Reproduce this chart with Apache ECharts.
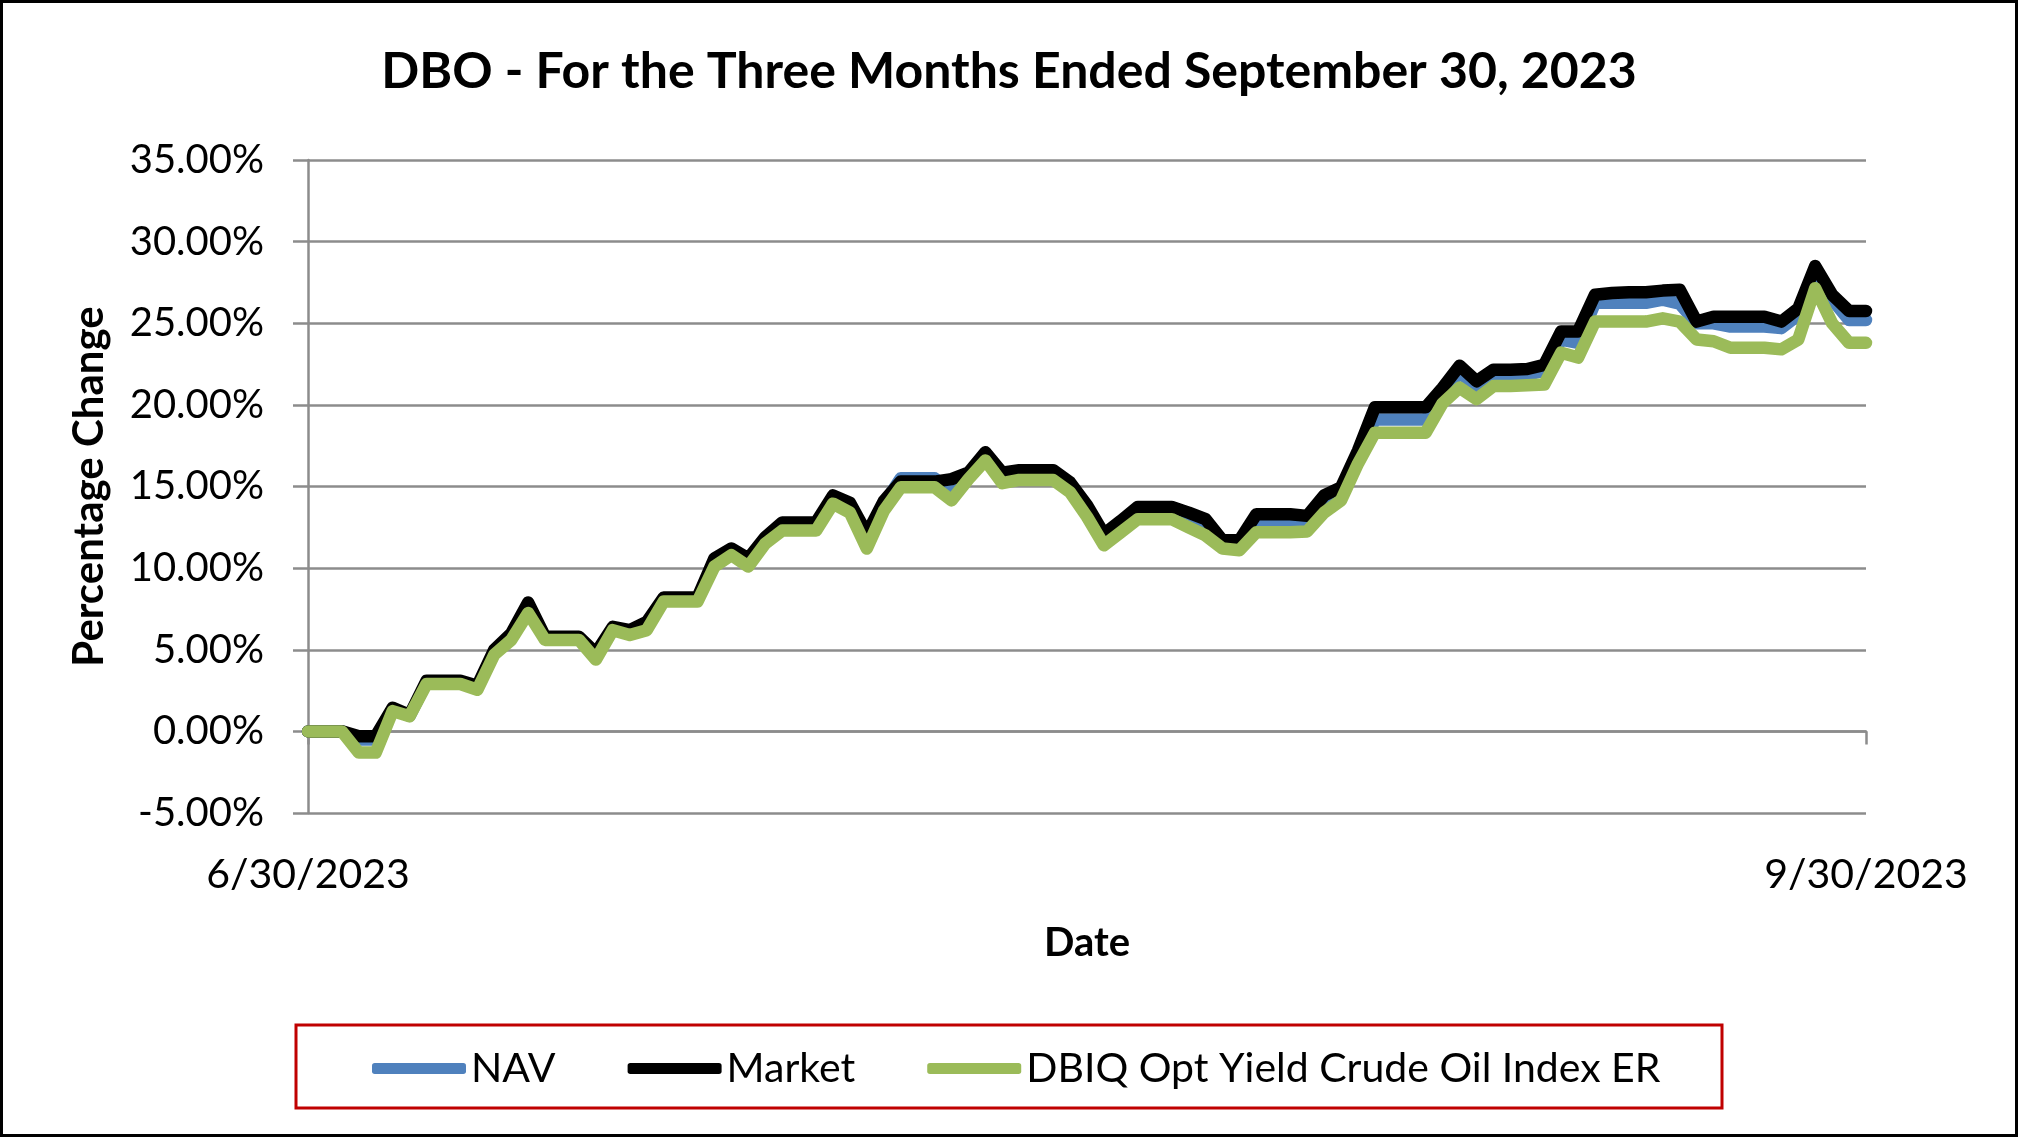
<!DOCTYPE html>
<html><head><meta charset="utf-8">
<script src="https://cdn.jsdelivr.net/npm/echarts/dist/echarts.min.js"></script>
<style>html,body{margin:0;padding:0;background:#fff}#c{width:2018px;height:1137px}</style>
</head><body><div id="c"></div>
<script>
// Categories: daily calendar dates from 6/30/2023 through 9/30/2023
const startDate = [2023, 5, 30]; // year, monthIndex, day
const dayCount = 93;
const xTickLabels = ['6/30/2023', '9/30/2023'];
const yMin = -5, yMax = 35, yInterval = 5;
const seriesNames = ['NAV', 'Market', 'DBIQ Opt Yield Crude Oil Index ER'];

const nav = [
  0, 0, 0, -0.5, -0.5, 1.35, 0.95, 3.0, 3.0, 3.0,
  2.7, 4.85, 5.8, 7.6, 5.7, 5.7, 5.7, 4.6, 6.3, 6.05,
  6.5, 8.1, 8.1, 8.1, 10.4, 11.0, 10.4, 11.7, 12.6, 12.6,
  12.6, 14.2, 13.8, 11.8, 13.9, 15.5, 15.5, 15.5, 14.65, 15.7,
  16.9, 15.6, 15.8, 15.8, 15.8, 15.0, 13.6, 12.0, 12.7, 13.5,
  13.5, 13.5, 13.1, 12.7, 11.5, 11.5, 12.8, 12.8, 12.8, 12.9,
  14.0, 14.7, 16.9, 19.1, 19.1, 19.1, 19.1, 20.6, 22.0, 21.1,
  21.8, 21.8, 21.85, 22.1, 24.0, 23.8, 26.25, 26.25, 26.25, 26.25,
  26.45, 26.2, 25.0, 25.0, 24.8, 24.8, 24.8, 24.7, 25.5, 27.95,
  26.45, 25.2, 25.2
];
const market = [
  0, 0, 0, -0.3, -0.3, 1.45, 1.0, 3.1, 3.1, 3.1,
  2.8, 5.0, 6.0, 7.9, 5.8, 5.8, 5.8, 4.8, 6.4, 6.2,
  6.7, 8.2, 8.2, 8.2, 10.6, 11.2, 10.6, 11.9, 12.8, 12.8,
  12.8, 14.45, 14.0, 12.1, 14.1, 15.3, 15.3, 15.3, 15.45, 15.85,
  17.1, 15.85, 16.0, 16.0, 16.0, 15.25, 13.85, 12.1, 12.9, 13.75,
  13.75, 13.75, 13.4, 13.0, 11.7, 11.7, 13.3, 13.3, 13.3, 13.2,
  14.45, 14.95, 17.2, 19.85, 19.85, 19.85, 19.85, 21.05, 22.4, 21.45,
  22.15, 22.15, 22.2, 22.45, 24.5, 24.5, 26.75, 26.85, 26.9, 26.9,
  27.0, 27.05, 25.1, 25.4, 25.4, 25.4, 25.4, 25.1, 25.9, 28.5,
  26.75, 25.75, 25.75
];
const dbiq = [
  0, 0, 0, -1.3, -1.3, 1.24, 0.93, 2.9, 2.9, 2.9,
  2.55, 4.7, 5.6, 7.25, 5.6, 5.6, 5.6, 4.4, 6.2, 5.9,
  6.2, 7.95, 7.95, 7.95, 10.1, 10.8, 10.1, 11.5, 12.3, 12.3,
  12.3, 13.95, 13.4, 11.2, 13.5, 14.95, 14.95, 14.95, 14.15, 15.45,
  16.6, 15.2, 15.4, 15.4, 15.4, 14.65, 13.15, 11.4, 12.2, 13.0,
  13.0, 13.0, 12.5, 12.0, 11.2, 11.1, 12.2, 12.2, 12.2, 12.25,
  13.4, 14.15, 16.4, 18.3, 18.3, 18.3, 18.3, 20.1, 21.05, 20.35,
  21.15, 21.15, 21.2, 21.25, 23.2, 22.9, 25.1, 25.1, 25.1, 25.1,
  25.3, 25.1, 24.0, 23.9, 23.5, 23.5, 23.5, 23.4, 24.0, 27.15,
  25.0, 23.8, 23.8
];

const categories = [];
for (let i = 0; i < dayCount; i++) {
  const d = new Date(Date.UTC(startDate[0], startDate[1], startDate[2] + i));
  categories.push((d.getUTCMonth() + 1) + '/' + d.getUTCDate() + '/' + d.getUTCFullYear());
}
const lastIdx = categories.length - 1;

const FONT = 'Lato';
const gridColor = '#8c8c8c';
const chart = echarts.init(document.getElementById('c'), null, {renderer: 'canvas'});

function lineSeries(name, data, color) {
  return {
    name, type: 'line', data, xAxisIndex: 0, yAxisIndex: 0,
    showSymbol: false, symbol: 'none', smooth: false,
    lineStyle: {width: 12.5, color, cap: 'round', join: 'round'},
    itemStyle: {color},
    emphasis: {disabled: true}, animation: false
  };
}

chart.setOption({
  backgroundColor: '#fff',
  animation: false,
  title: {
    text: 'DBO - For the Three Months Ended September 30, 2023',
    left: 'center', top: 42,
    textStyle: {fontFamily: FONT, fontWeight: 'bold', fontSize: 50, color: '#000'}
  },
  grid: {left: 308, right: 152, top: 160, bottom: 324, containLabel: false},
  xAxis: [
    {
      type: 'category', data: categories, boundaryGap: false,
      axisLine: {onZero: true, lineStyle: {color: gridColor, width: 2.5}},
      axisTick: {show: true, length: 13, interval: (i) => i === 0 || i === lastIdx, lineStyle: {color: gridColor, width: 2.5}},
      axisLabel: {show: false},
      splitLine: {show: false}
    },
    {
      type: 'category', data: categories, boundaryGap: false, position: 'bottom',
      axisLine: {show: false, onZero: false}, axisTick: {show: false},
      axisLabel: {
        show: true, margin: 41,
        interval: (i) => i === 0 || i === lastIdx,
        formatter: (v, i) => i === 0 ? xTickLabels[0] : xTickLabels[1],
        fontFamily: FONT, fontSize: 41, color: '#000'
      },
      name: 'Date', nameLocation: 'middle', nameGap: 110,
      nameTextStyle: {fontFamily: FONT, fontWeight: 'bold', fontSize: 40, color: '#000'}
    }
  ],
  yAxis: {
    type: 'value', min: yMin, max: yMax, interval: yInterval,
    axisLine: {show: true, lineStyle: {color: gridColor, width: 2.5}},
    axisTick: {show: true, length: 15, lineStyle: {color: gridColor, width: 2.5}},
    splitLine: {show: true, lineStyle: {color: gridColor, width: 2.5}},
    axisLabel: {
      margin: 44, formatter: (v) => v.toFixed(2) + '%',
      fontFamily: FONT, fontSize: 40, color: '#000'
    },
    name: 'Percentage Change', nameLocation: 'middle', nameGap: 198, nameRotate: 90,
    nameTextStyle: {fontFamily: FONT, fontWeight: 'bold', fontSize: 42, color: '#000'}
  },
  legend: {
    data: seriesNames,
    left: 367, top: 1043,
    icon: 'roundRect', itemWidth: 94, itemHeight: 11, itemGap: 72,
    textStyle: {fontFamily: FONT, fontSize: 41, color: '#000', padding: [0, 0, 0, 0]},
    selectedMode: false
  },
  graphic: [
    {type: 'rect', shape: {x: 296, y: 1025, width: 1426, height: 83},
     style: {fill: 'none', stroke: '#C00000', lineWidth: 3}, silent: true},
    {type: 'rect', shape: {x: 1.5, y: 1.5, width: 2015, height: 1134},
     style: {fill: 'none', stroke: '#000', lineWidth: 3}, silent: true}
  ],
  series: [
    lineSeries(seriesNames[0], nav, '#4F81BD'),
    lineSeries(seriesNames[1], market, '#000000'),
    lineSeries(seriesNames[2], dbiq, '#9BBB59')
  ]
});
</script></body></html>
